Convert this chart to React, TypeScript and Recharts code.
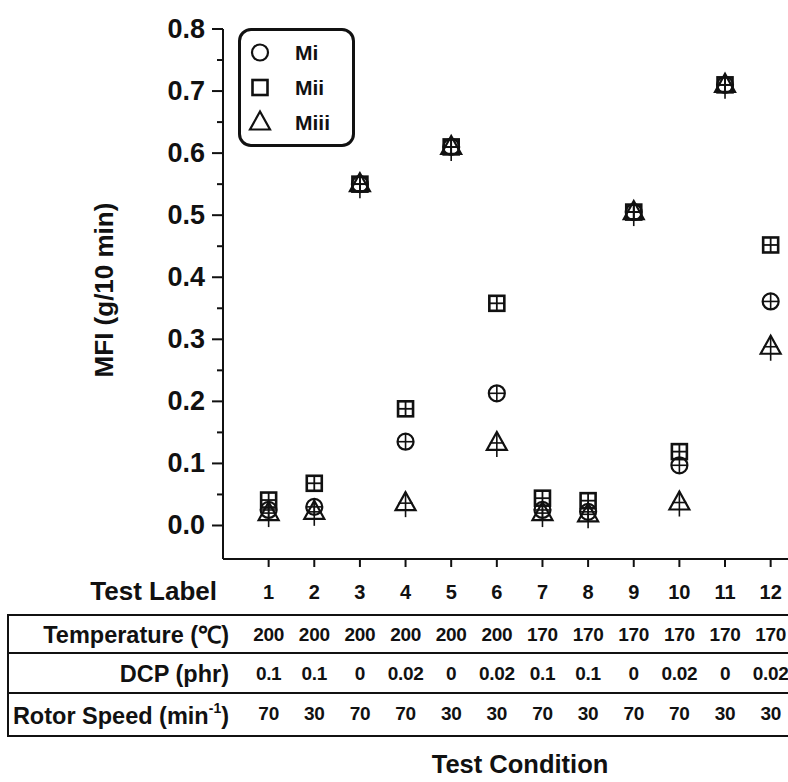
import React from "react";
import { ScatterChart, Scatter, XAxis, YAxis, Legend, Label } from "recharts";

const FONT = "'Liberation Sans', Arial, Helvetica, sans-serif";

// test labels 1..12 and MFI values (g/10 min)
const testLabels = [1, 2, 3, 4, 5, 6, 7, 8, 9, 10, 11, 12];
const miValues = [0.025, 0.03, 0.55, 0.135, 0.61, 0.213, 0.025, 0.022, 0.505, 0.097, 0.71, 0.361];
const miiValues = [0.041, 0.068, 0.55, 0.188, 0.61, 0.358, 0.044, 0.04, 0.505, 0.119, 0.71, 0.452];
const miiiValues = [0.02, 0.022, 0.55, 0.036, 0.61, 0.133, 0.02, 0.018, 0.505, 0.037, 0.71, 0.288];

// test conditions table
const temperatures = ["200", "200", "200", "200", "200", "200", "170", "170", "170", "170", "170", "170"];
const dcpAmounts = ["0.1", "0.1", "0", "0.02", "0", "0.02", "0.1", "0.1", "0", "0.02", "0", "0.02"];
const rotorSpeeds = ["70", "30", "70", "70", "30", "30", "70", "30", "70", "70", "30", "30"];

const yTicks = [0, 0.05, 0.1, 0.15, 0.2, 0.25, 0.3, 0.35, 0.4, 0.45, 0.5, 0.55, 0.6, 0.65, 0.7, 0.75, 0.8];
const xDomain: [number, number] = [0, 12.38];

const toPoints = (vals: number[]) => testLabels.map((x, i) => ({ x, y: vals[i] }));

const ink = "#111";

function CircleMark({ cx, cy, cross = true }: any) {
  return (
    <g>
      <circle cx={cx} cy={cy} r={8} fill="none" stroke={ink} strokeWidth={2.2} />
      {cross && (
        <>
          <line x1={cx - 8} x2={cx + 8} y1={cy} y2={cy} stroke={ink} strokeWidth={1.6} />
          <line x1={cx} x2={cx} y1={cy - 8} y2={cy + 8} stroke={ink} strokeWidth={1.6} />
        </>
      )}
    </g>
  );
}

function SquareMark({ cx, cy, cross = true }: any) {
  return (
    <g>
      <rect x={cx - 7.5} y={cy - 7.5} width={15} height={15} fill="none" stroke={ink} strokeWidth={2.6} />
      {cross && (
        <>
          <line x1={cx - 7.5} x2={cx + 7.5} y1={cy} y2={cy} stroke={ink} strokeWidth={1.8} />
          <line x1={cx} x2={cx} y1={cy - 7.5} y2={cy + 7.5} stroke={ink} strokeWidth={1.8} />
        </>
      )}
    </g>
  );
}

function TriangleMark({ cx, cy, cross = true }: any) {
  return (
    <g>
      <polygon
        points={`${cx},${cy - 11} ${cx - 10},${cy + 7} ${cx + 10},${cy + 7}`}
        fill="none"
        stroke={ink}
        strokeWidth={2.2}
        strokeLinejoin="miter"
      />
      {cross && (
        <>
          <line x1={cx - 7} x2={cx + 7} y1={cy} y2={cy} stroke={ink} strokeWidth={1.6} />
          <line x1={cx} x2={cx} y1={cy - 11} y2={cy + 14} stroke={ink} strokeWidth={1.6} />
        </>
      )}
    </g>
  );
}

const markers: Record<string, any> = { Mi: CircleMark, Mii: SquareMark, Miii: TriangleMark };

function YTick(props: any) {
  const { x, y, payload } = props;
  const v = payload.value as number;
  const major = Math.round(v * 100) % 10 === 0;
  return (
    <g>
      <line x1={x - (major ? 11 : 6)} x2={x} y1={y} y2={y} stroke={ink} strokeWidth={2} />
      {major && (
        <text
          x={x - 18}
          y={y}
          textAnchor="end"
          dominantBaseline="central"
          fontFamily={FONT}
          fontWeight="bold"
          fontSize={27}
          fill={ink}
        >
          {v.toFixed(1)}
        </text>
      )}
    </g>
  );
}

function renderLegend(props: any) {
  const items = (props.payload || []).filter((it: any) => markers[it.value]);
  return (
    <div
      style={{
        position: "relative",
        width: 117,
        height: 119,
        boxSizing: "border-box",
        border: `3px solid ${ink}`,
        borderRadius: 13,
        background: "#fff",
      }}
    >
      {items.map((it: any, i: number) => {
        const Mark = markers[it.value];
        return (
          <div key={it.value} style={{ position: "absolute", left: 0, top: 4 + i * 35, height: 35, width: 111 }}>
            <svg width={40} height={35} style={{ position: "absolute", left: 0, top: 0 }}>
              <Mark cx={19} cy={17.5} cross={false} />
            </svg>
            <span
              style={{
                position: "absolute",
                left: 54,
                top: 0,
                lineHeight: "35px",
                fontFamily: FONT,
                fontWeight: "bold",
                fontSize: 21,
                color: ink,
              }}
            >
              {it.value}
            </span>
          </div>
        );
      })}
    </div>
  );
}

// row label of the conditions table, with its ruled lines
function TableRow({ viewBox, text, last }: any) {
  const { y, height } = viewBox;
  return (
    <g>
      <line x1={7} x2={788} y1={y} y2={y} stroke={ink} strokeWidth={2} />
      <line x1={8} x2={8} y1={y} y2={y + height} stroke={ink} strokeWidth={2} />
      {last && <line x1={7} x2={788} y1={y + height} y2={y + height} stroke={ink} strokeWidth={2} />}
      <text
        x={229}
        y={y + height / 2 + 1}
        textAnchor="end"
        dominantBaseline="central"
        fontFamily={FONT}
        fontWeight="bold"
        fontSize={23.5}
        fill={ink}
      >
        {text}
      </text>
      {last && (
        <text
          x={520}
          y={y + height + 28}
          textAnchor="middle"
          dominantBaseline="central"
          fontFamily={FONT}
          fontWeight="bold"
          fontSize={25.5}
          fill={ink}
        >
          Test Condition
        </text>
      )}
    </g>
  );
}

const tableTick = { fill: ink, fontSize: 19, fontWeight: "bold", fontFamily: FONT, letterSpacing: -0.3 };
const hidden = () => <g />;

export default function App() {
  return (
    <div style={{ position: "absolute", left: 0, top: 0, width: 788, height: 782, background: "#fff" }}>
      <ScatterChart width={788} height={782} margin={{ top: 29, right: 0, bottom: 46, left: 0 }}>
        <XAxis
          xAxisId="x1main"
          type="number"
          dataKey="x"
          domain={xDomain}
          ticks={testLabels}
          interval={0}
          allowDataOverflow
          height={56}
          axisLine={{ stroke: ink, strokeWidth: 2 }}
          tickLine={{ stroke: ink, strokeWidth: 2 }}
          tickSize={8}
          tickMargin={18}
          tick={{ fill: ink, fontSize: 20, fontWeight: "bold", fontFamily: FONT }}
        >
          <Label
            content={({ viewBox }: any) => (
              <text
                x={viewBox.x - 6}
                y={viewBox.y + 32}
                textAnchor="end"
                dominantBaseline="central"
                fontFamily={FONT}
                fontWeight="bold"
                fontSize={26}
                fill={ink}
              >
                Test Label
              </text>
            )}
          />
        </XAxis>
        <XAxis
          xAxisId="x2temp"
          type="number"
          dataKey="x"
          domain={xDomain}
          ticks={testLabels}
          interval={0}
          allowDataOverflow
          height={38}
          axisLine={false}
          tickLine={false}
          tickSize={0}
          tickMargin={13}
          tick={tableTick}
          tickFormatter={(v: number) => temperatures[testLabels.indexOf(v)]}
        >
          <Label content={({ viewBox }: any) => <TableRow viewBox={viewBox} text="Temperature (℃)" />} />
        </XAxis>
        <XAxis
          xAxisId="x3dcp"
          type="number"
          dataKey="x"
          domain={xDomain}
          ticks={testLabels}
          interval={0}
          allowDataOverflow
          height={40}
          axisLine={false}
          tickLine={false}
          tickSize={0}
          tickMargin={14}
          tick={tableTick}
          tickFormatter={(v: number) => dcpAmounts[testLabels.indexOf(v)]}
        >
          <Label content={({ viewBox }: any) => <TableRow viewBox={viewBox} text="DCP (phr)" />} />
        </XAxis>
        <XAxis
          xAxisId="x4rotor"
          type="number"
          dataKey="x"
          domain={xDomain}
          ticks={testLabels}
          interval={0}
          allowDataOverflow
          height={43}
          axisLine={false}
          tickLine={false}
          tickSize={0}
          tickMargin={14}
          tick={tableTick}
          tickFormatter={(v: number) => rotorSpeeds[testLabels.indexOf(v)]}
        >
          <Label
            content={({ viewBox }: any) => (
              <TableRow
                viewBox={viewBox}
                last
                text={
                  <>
                    Rotor Speed (min
                    <tspan dy={-8} fontSize={14}>
                      -1
                    </tspan>
                    <tspan dy={8}>)</tspan>
                  </>
                }
              />
            )}
          />
        </XAxis>
        <YAxis
          yAxisId="y"
          type="number"
          dataKey="y"
          domain={[-0.054, 0.8]}
          ticks={yTicks}
          interval={0}
          allowDataOverflow
          width={223}
          axisLine={{ stroke: ink, strokeWidth: 2 }}
          tickLine={false}
          tickSize={0}
          tickMargin={0}
          tick={<YTick />}
        >
          <Label
            content={() => (
              <text
                x={104}
                y={290}
                transform="rotate(-90 104 290)"
                textAnchor="middle"
                dominantBaseline="central"
                fontFamily={FONT}
                fontWeight="bold"
                fontSize={26}
                fill={ink}
              >
                MFI (g/10 min)
              </text>
            )}
          />
        </YAxis>
        <Legend
          content={renderLegend}
          layout="horizontal"
          verticalAlign="middle"
          align="center"
          wrapperStyle={{ left: 238, top: 28, width: 117, height: 119 }}
        />
        <Scatter
          name="Mi"
          xAxisId="x1main"
          yAxisId="y"
          data={toPoints(miValues)}
          shape={(p: any) => <CircleMark cx={p.cx} cy={p.cy} />}
          isAnimationActive={false}
        />
        <Scatter
          name="Mii"
          xAxisId="x1main"
          yAxisId="y"
          data={toPoints(miiValues)}
          shape={(p: any) => <SquareMark cx={p.cx} cy={p.cy} />}
          isAnimationActive={false}
        />
        <Scatter
          name="Miii"
          xAxisId="x1main"
          yAxisId="y"
          data={toPoints(miiiValues)}
          shape={(p: any) => <TriangleMark cx={p.cx} cy={p.cy} />}
          isAnimationActive={false}
        />
        {/* the table rows share the test-label scale; invisible series give them a domain */}
        {["x2temp", "x3dcp", "x4rotor"].map((id) => (
          <Scatter
            key={id}
            name={id}
            xAxisId={id}
            yAxisId="y"
            data={toPoints(miValues)}
            shape={hidden}
            legendType="none"
            isAnimationActive={false}
          />
        ))}
      </ScatterChart>
    </div>
  );
}
